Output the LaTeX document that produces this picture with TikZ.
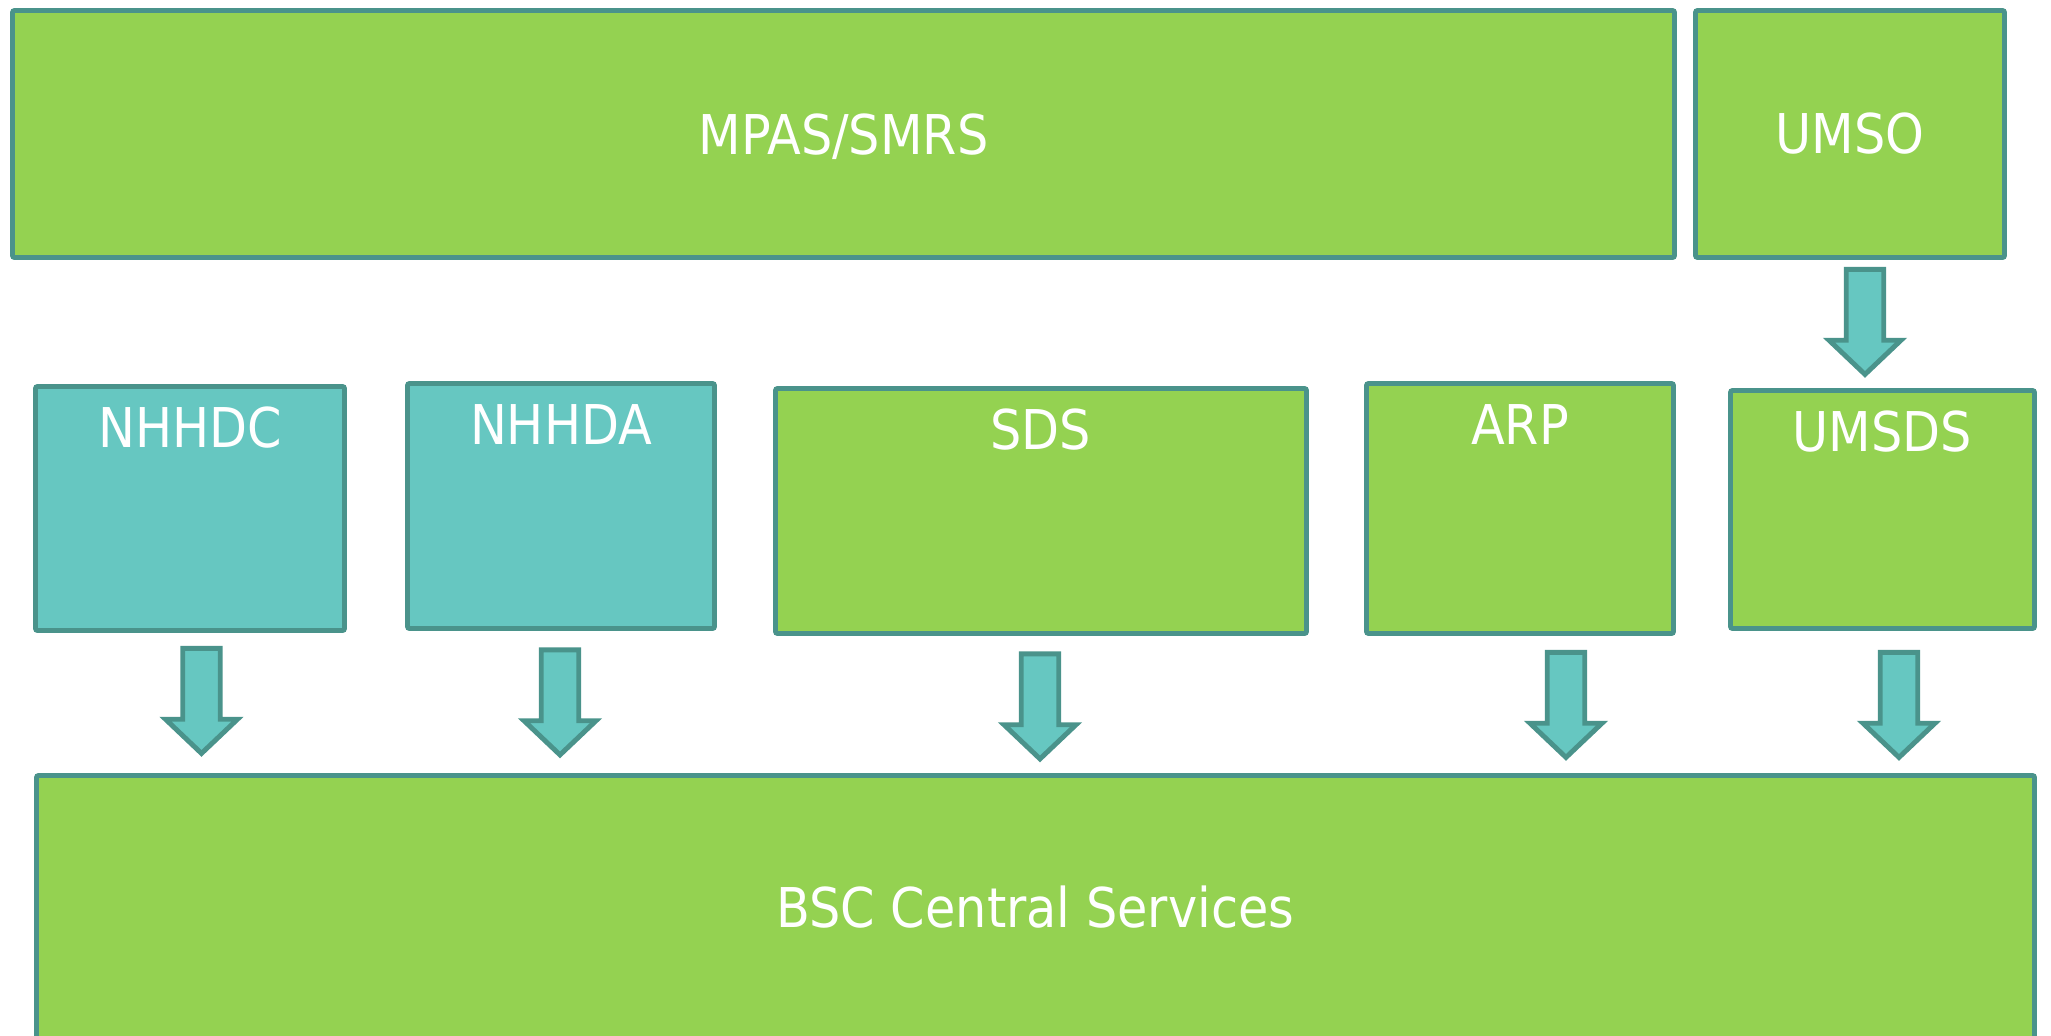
\documentclass[tikz,border=0pt]{standalone}
\usepackage{fontspec}
\setmainfont{DejaVu Sans Condensed}
\usetikzlibrary{shapes.arrows,positioning}

\definecolor{leaf}{HTML}{94D251}
\definecolor{aqua}{HTML}{66C7C1}
\definecolor{rim}{HTML}{4A938B}

\begin{document}
\begin{tikzpicture}[
				box/.style={draw=rim, line width=1.4pt, rounded corners=0.6pt, fill=leaf, text=white, font=\fontsize{15.6}{18}\selectfont, inner sep=0pt},
				tealbox/.style={box, fill=aqua},
				title/.style={anchor=base, text=white, font=\fontsize{15.6}{18}\selectfont, inner sep=0pt},
				toptitle/.style={title, yshift=-0.63cm},
				flow/.style={draw=rim, line width=1.4pt, fill=aqua, single arrow, shape border rotate=270, minimum height=1.05cm, minimum width=0.72cm, single arrow head extend=0.17cm, single arrow tip angle=93, inner sep=0.16cm}
				]
				\useasboundingbox (0,0) rectangle (20.51,10.35);
				\clip (0,0) rectangle (20.51,10.35);
				% top row
				\node[box, text depth=0pt, minimum width=16.62cm, minimum height=2.47cm] (mpas) at (8.435,9.01) {MPAS/SMRS};
				\node[box, minimum width=3.09cm, minimum height=2.47cm] (umso) at (18.50,9.01) {UMSO};
				
				% middle row, titles sit near the top edge
				\node[tealbox, minimum width=3.09cm, minimum height=2.44cm, label={[toptitle]north:NHHDC}] (nhhdc) at (1.90,5.265) {};
				\node[tealbox, minimum width=3.07cm, minimum height=2.45cm, label={[toptitle]north:NHHDA}] (nhhda) at (5.61,5.29) {};
				\node[box, minimum width=5.31cm, minimum height=2.45cm, label={[toptitle]north:SDS}] (sds) at (10.41,5.24) {};
				\node[box, minimum width=3.07cm, minimum height=2.50cm, label={[toptitle]north:ARP}] (arp) at (15.20,5.265) {};
				\node[box, minimum width=3.04cm, minimum height=2.38cm, label={[toptitle]north:UMSDS}] (umsds) at (18.825,5.255) {};
				
				% bottom band runs off the lower edge
				\node[box, minimum width=19.98cm, minimum height=3.10cm] (bsc) at (10.355,1.045) {};
				\node[title] (bsctext) at (10.355,1.08) {BSC Central Services};
				
				% block arrows
				\node[flow] (umsoarrow) at (18.65,7.22) {};
				\node[flow] (dcarrow) at (2.015,3.43) {};
				\node[flow] (daarrow) at (5.60,3.415) {};
				\node[flow] (sdsarrow) at (10.40,3.375) {};
				\node[flow] (arparrow) at (15.66,3.39) {};
				\node[flow] (umsdsarrow) at (18.99,3.39) {};
\end{tikzpicture}
\end{document}
